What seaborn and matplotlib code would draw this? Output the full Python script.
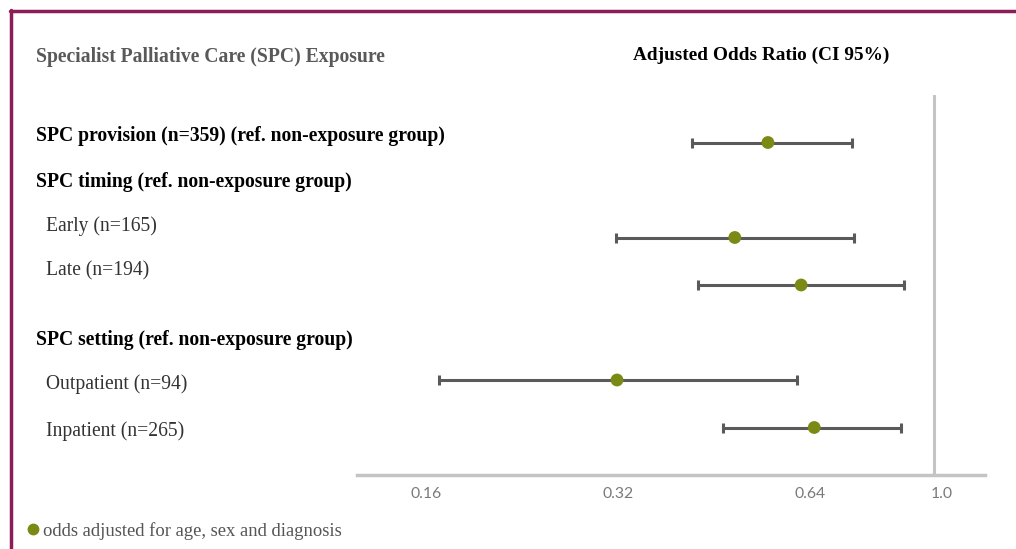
import matplotlib
matplotlib.use("Agg")
import matplotlib.pyplot as plt
import matplotlib.transforms as mtransforms
import pandas as pd
import seaborn as sns
from matplotlib.lines import Line2D

# data (adjusted odds ratios with 95% CI)
groups = ["SPC provision (n=359)", "Early (n=165)", "Late (n=194)",
          "Outpatient (n=94)", "Inpatient (n=265)"]
rows = [0, 2, 3, 5, 6]          # row slot on the y axis (headers take 1 and 4)
odds = [0.55, 0.488, 0.62, 0.319, 0.65]
ci_low = [0.418, 0.318, 0.427, 0.168, 0.467]
ci_high = [0.745, 0.75, 0.90, 0.61, 0.89]

tick_values = [0.16, 0.32, 0.64, 1.0]
tick_labels = ["0.16", "0.32", "0.64", "1.0"]

# text column on the left: (label, bold)
row_texts = [
    ("SPC provision (n=359) (ref. non-exposure group)", True),
    ("SPC timing (ref. non-exposure group)", True),
    ("Early (n=165)", False),
    ("Late (n=194)", False),
    ("SPC setting (ref. non-exposure group)", True),
    ("Outpatient (n=94)", False),
    ("Inpatient (n=265)", False),
]
row_text_y = [136, 182, 226, 271, 340, 384, 431]   # pixel rows of the labels

df = pd.DataFrame({"group": groups, "row": rows, "odds": odds,
                   "low": ci_low, "high": ci_high})

sns.set_theme(style="white")
plt.rcParams["font.family"] = ["Liberation Serif", "DejaVu Serif"]

W, H = 1016, 549
fig = plt.figure(figsize=(W / 100, H / 100), dpi=100)
fig.patch.set_facecolor("white")

ax = fig.add_axes([357 / W, 1 - 475 / H, 628 / W, 380 / H])

green = "#7b8a14"
grey_line = "#c4c4c4"

# confidence intervals
ax.errorbar(df["odds"], df["row"],
            xerr=[df["odds"] - df["low"], df["high"] - df["odds"]],
            fmt="none", ecolor="#5a5a5a", elinewidth=2.2, capsize=3.5,
            capthick=2.2, zorder=2)
# point estimates
sns.scatterplot(data=df, x="odds", y="row", ax=ax, color=green, s=85,
                edgecolor="none", zorder=3, legend=False)

ax.axvline(1.0, color=grey_line, lw=2.2, zorder=1)

ax.set_xscale("log")
ax.set_xlim(0.1248, 1.204)
ax.set_ylim(7, -1)
ax.set_xticks(tick_values)
ax.set_xticklabels(tick_labels)
ax.minorticks_off()
ax.set_yticks([])
ax.set_xlabel("")
ax.set_ylabel("")
ax.tick_params(axis="x", length=0, pad=9, labelsize=11.3, colors="#7a7a7a")
for lbl in ax.get_xticklabels():
    lbl.set_family(["Lato", "DejaVu Sans"])
# the "1.0" label sits a little right of its gridline in the original
last = ax.get_xticklabels()[-1]
last.set_transform(last.get_transform() +
                   mtransforms.ScaledTranslation(8 / 100, 0, fig.dpi_scale_trans))
for side in ["top", "right", "left"]:
    ax.spines[side].set_visible(False)
ax.spines["bottom"].set_color(grey_line)
ax.spines["bottom"].set_linewidth(2.5)
ax.set_facecolor("none")

# headers
fig.text(36 / W, 1 - 57 / H, "Specialist Palliative Care (SPC) Exposure",
         fontsize=14.1, fontweight="bold", color="#595959", va="center")
fig.text(761 / W, 1 - 55 / H, "Adjusted Odds Ratio (CI 95%)",
         fontsize=13.9, fontweight="bold", color="black", va="center", ha="center")

# row labels
for (txt, bold), py in zip(row_texts, row_text_y):
    x0 = 36 if bold else 46
    fig.text(x0 / W, 1 - py / H, txt, fontsize=14.1,
             fontweight="bold" if bold else "normal",
             color="black" if bold else "#333333", va="center")

# footer legend
handle = Line2D([], [], marker="o", ls="none", color=green, markersize=7.5)
fig.legend([handle], ["odds adjusted for age, sex and diagnosis"],
           loc="center left", bbox_to_anchor=(18 / W, 1 - 531 / H),
           frameon=False, handlelength=0.6, handletextpad=0.25,
           borderpad=0, fontsize=13.4, labelcolor="#555555")

# maroon frame (top and left edges)
frame = "#8c1d59"
fig.add_artist(Line2D([11 / W, 11 / W], [1 - 10 / H, 0], color=frame, lw=2.5))
fig.add_artist(Line2D([10 / W, 1], [1 - 11 / H, 1 - 11 / H], color=frame, lw=2.5))

fig.savefig("out.png", dpi=100)
